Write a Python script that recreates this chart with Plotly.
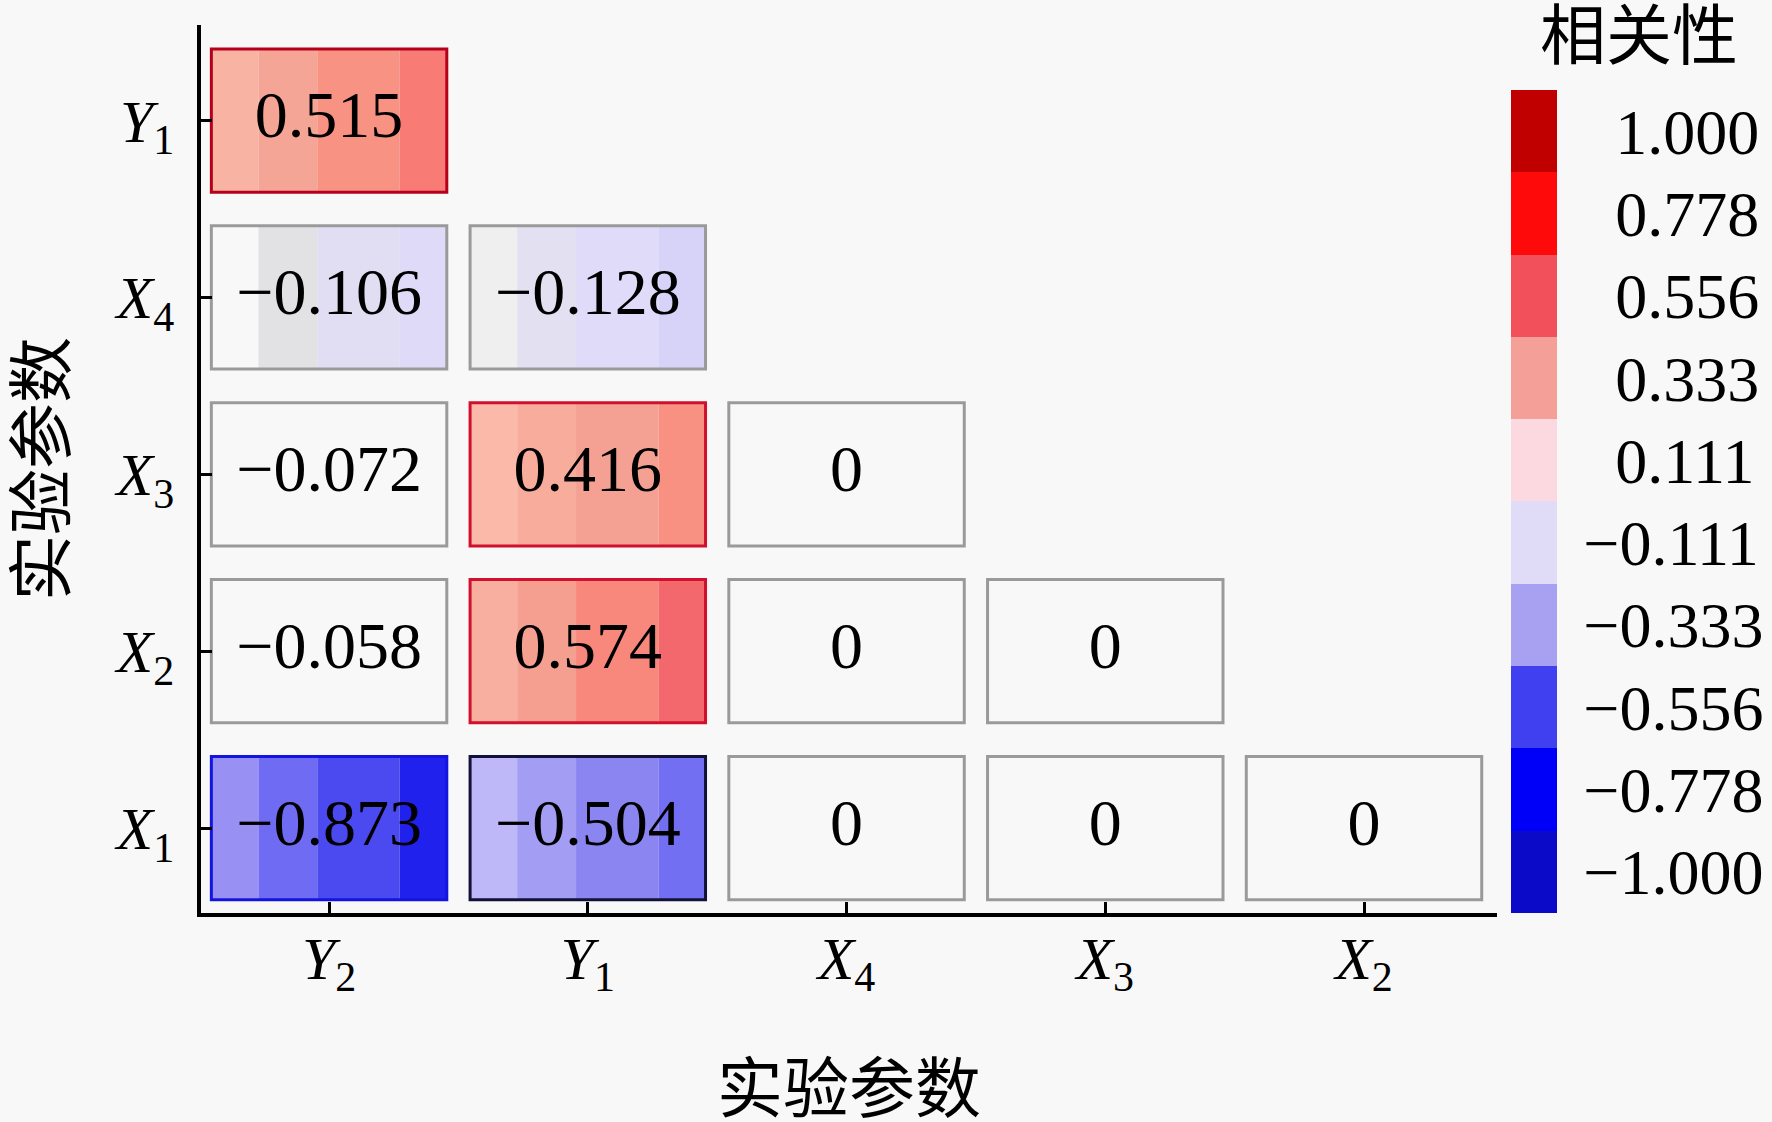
import plotly.graph_objects as go

# ---------------- data ----------------
x_letters = ["Y", "Y", "X", "X", "X"]
x_subs = ["2", "1", "4", "3", "2"]
y_letters = ["X", "X", "X", "X", "Y"]          # bottom -> top
y_subs = ["1", "2", "3", "4", "1"]

row_X1 = [-0.873, -0.504, 0, 0, 0]
row_X2 = [-0.058, 0.574, 0, 0, None]
row_X3 = [-0.072, 0.416, 0, None, None]
row_X4 = [-0.106, -0.128, None, None, None]
row_Y1 = [0.515, None, None, None, None]
rows = [row_X1, row_X2, row_X3, row_X4, row_Y1]

cb_levels = [-1.0, -0.778, -0.556, -0.333, -0.111, 0.111, 0.333, 0.556, 0.778, 1.0]
cb_labels = ["−1.000", "−0.778", "−0.556", "−0.333", "−0.111",
             "0.111", "0.333", "0.556", "0.778", "1.000"]
cb_colors = ["#0a0ac8", "#0000f8", "#4040f0", "#a8a0f0", "#e0dcf8",
             "#fcd8e0", "#f4a098", "#f2505a", "#ff0a0a", "#c00000"]

# ---------------- styles ----------------
BG = "#f8f8f8"
SERIF = "Liberation Serif"
CJK = "Noto Sans CJK SC"

fill_stops = [(-1.0, "#1010e0"), (-0.85, "#2424f0"), (-0.7, "#4a4af0"), (-0.5, "#7470f2"),
              (-0.35, "#9890f2"), (-0.2, "#beb8f8"), (-0.1, "#e0dcf8"), (-0.075, "#e2e0f0"),
              (-0.06, "#e2e2e2"), (-0.045, BG), (0.0, BG), (0.1, "#fcd8d0"),
              (0.15, "#fbbcac"), (0.25, "#f8ac9c"), (0.33, "#f4a294"), (0.42, "#f89080"),
              (0.5, "#fa8078"), (0.6, "#f06068"), (0.8, "#ff1818"), (1.0, "#c00000")]


def h2rgb(h):
    h = h.lstrip("#")
    return tuple(int(h[i:i + 2], 16) for i in (0, 2, 4))


def interp(v):
    if v <= fill_stops[0][0]:
        return fill_stops[0][1]
    for (a, ca), (b, cb) in zip(fill_stops[:-1], fill_stops[1:]):
        if a <= v <= b:
            t = (v - a) / (b - a) if b > a else 0
            r1, g1, b1 = h2rgb(ca)
            r2, g2, b2 = h2rgb(cb)
            return "rgb(%d,%d,%d)" % (round(r1 + (r2 - r1) * t), round(g1 + (g2 - g1) * t),
                                      round(b1 + (b2 - b1) * t))
    return fill_stops[-1][1]


def border(v):
    if v >= 0.5 and v < 0.55:
        return "#b4001a"
    if v >= 0.3:
        return "#d0102c"
    if v <= -0.7:
        return "#1414e0"
    if v <= -0.3:
        return "#121238"
    return "#9a9a9a"


def fmt(v):
    if v == 0:
        return "0"
    return ("%.3f" % v).replace("-", "−")


hw, hh = 0.455, 0.405
strip_edges = [0.0, 0.2, 0.45, 0.8, 1.0]
strip_fracs = [0.4, 0.6, 0.8, 1.0]

shapes = []
tx, ty, tt = [], [], []
for yi, row in enumerate(rows):
    for xi, v in enumerate(row):
        if v is None:
            continue
        x0, x1 = xi - hw, xi + hw
        y0, y1 = yi - hh, yi + hh
        if abs(v) >= 0.1:
            for k in range(4):
                sx0 = x0 + (x1 - x0) * strip_edges[k]
                sx1 = x0 + (x1 - x0) * strip_edges[k + 1]
                shapes.append(dict(type="rect", xref="x", yref="y", x0=sx0, x1=sx1, y0=y0, y1=y1,
                                   fillcolor=interp(v * strip_fracs[k]), line=dict(width=0),
                                   layer="below"))
        shapes.append(dict(type="rect", xref="x", yref="y", x0=x0, x1=x1, y0=y0, y1=y1,
                           fillcolor="rgba(0,0,0,0)", line=dict(color=border(v), width=3),
                           layer="below"))
        tx.append(xi)
        ty.append(yi)
        tt.append(fmt(v))

cb_scale = []
n = len(cb_colors)
for i, c in enumerate(cb_colors):
    cb_scale.append([i / n, c])
    cb_scale.append([(i + 1) / n, c])

half = (cb_levels[-1] - cb_levels[0]) / (len(cb_levels) - 1) / 2
cb_ticktext = [t if t.startswith("−") else "\u2007" + t for t in cb_labels]

# plot area in pixels
L, R, T, B = 201, 1497, 25, 913
PW, PH = R - L, B - T

fig = go.Figure()
fig.add_trace(go.Scatter(
    x=tx, y=ty, text=tt, mode="text",
    textfont=dict(family=SERIF, size=66, color="black"),
    hoverinfo="skip", showlegend=False))

fig.add_trace(go.Scatter(
    x=[None], y=[None], mode="markers", hoverinfo="skip", showlegend=False,
    marker=dict(color=[0], cmin=cb_levels[0] - half, cmax=cb_levels[-1] + half,
                colorscale=cb_scale, showscale=True,
                colorbar=dict(thickness=46, thicknessmode="pixels",
                              len=823, lenmode="pixels",
                              x=(1511 - L) / PW, xref="paper", xanchor="left", xpad=0,
                              y=0, yref="paper", yanchor="bottom", ypad=0,
                              outlinewidth=0, tickvals=cb_levels, ticktext=cb_ticktext,
                              ticks="outside", ticklen=14, tickcolor="rgba(0,0,0,0)",
                              tickfont=dict(family=SERIF, size=64, color="black")))))

xt = ["<i>%s</i><sub>%s</sub>" % (a, b) for a, b in zip(x_letters, x_subs)]
yt = ["<i>%s</i><sub>%s</sub>" % (a, b) for a, b in zip(y_letters, y_subs)]

axis_common = dict(showline=True, linecolor="black", linewidth=3.5, ticks="inside",
                   ticklen=11, tickwidth=3, tickcolor="black", showgrid=False, zeroline=False,
                   tickfont=dict(family=SERIF, size=60, color="black"), fixedrange=True,
                   automargin=False)

fig.update_layout(
    width=1772, height=1122,
    margin=dict(l=L, r=1772 - R, t=T, b=1122 - B, autoexpand=False),
    paper_bgcolor=BG, plot_bgcolor=BG,
    shapes=shapes,
    xaxis=dict(range=[-0.495, 4.514], tickvals=list(range(5)), ticktext=xt,
               ticklabelstandoff=-10, **axis_common),
    yaxis=dict(range=[-0.48, 4.54], tickvals=list(range(5)), ticktext=yt,
               ticklabelstandoff=11, **axis_common),
    annotations=[
        dict(text="实验参数", xref="paper", yref="paper", x=0.5, y=-(1083 - B) / PH,
             xanchor="center", yanchor="middle", showarrow=False,
             font=dict(family=CJK, size=66, color="black")),
        dict(text="实验参数", xref="paper", yref="paper", x=(36 - L) / PW, y=(B - 469) / PH,
             xanchor="center", yanchor="middle", showarrow=False, textangle=-90,
             font=dict(family=CJK, size=66, color="black")),
        dict(text="相关性", xref="paper", yref="paper", x=(1639 - L) / PW,
             y=(B - 30) / PH, xanchor="center", yanchor="middle", showarrow=False,
             font=dict(family=CJK, size=66, color="black")),
    ],
)

fig.write_html("out.html",
               config={"displayModeBar": False},
               post_script="document.body.style.margin='0';"
                           "document.body.style.background='%s';" % BG)
